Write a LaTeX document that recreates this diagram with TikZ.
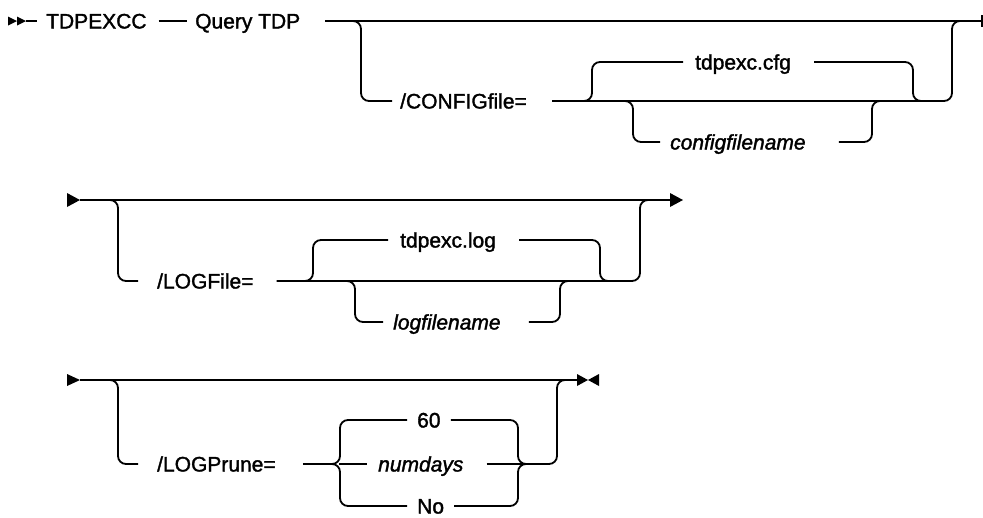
\documentclass[tikz,border=0pt]{standalone}
\usepackage{fontspec}
\setmainfont{Liberation Sans}[FakeBold=1.6]
\begin{document}
\begin{tikzpicture}[x=1pt,y=-1pt,
  ln/.style={line width=1.8pt},
  rr/.style={line width=1.8pt, rounded corners=8pt},
  lbl/.style={font=\fontsize{21pt}{25pt}\selectfont, inner sep=0pt, anchor=base west},
  var/.style={lbl, font=\fontsize{21pt}{25pt}\selectfont\itshape}]
\useasboundingbox (0,0) rectangle (983,517);
% rails
\coordinate (ya) at (0,21);
\coordinate (yb) at (0,101);
\coordinate (yc) at (0,62);
\coordinate (yd) at (0,142);
\coordinate (ye) at (0,200);
\coordinate (yf) at (0,281);
\coordinate (yg) at (0,240);
\coordinate (yh) at (0,322);
\coordinate (yi) at (0,380);
\coordinate (yj) at (0,464);
\coordinate (yk) at (0,420);
\coordinate (yl) at (0,506);
% ---------- row 1 ----------
\fill (8,16.5) -- (17,21) -- (8,25.5) -- cycle;
\fill (17,16.5) -- (26,21) -- (17,25.5) -- cycle;
\coordinate (s1) at (26,21);
\node[lbl] (t1) at (46,28.5) {TDPEXCC};
\node[lbl] (t2) at (195,28.5) {Query TDP};
\node[lbl] (t3) at (400,108.5) {/CONFIGfile=};
\node[lbl] (t4) at (695,69.5) {tdpexc.cfg};
\node[var] (t5) at (670,149.5) {configfilename};
\coordinate (e1) at (982,21);
\draw[ln] (s1) -- (37,21);
\draw[ln] ([xshift=12pt]t1.east |- ya) -- ([xshift=-8pt]t2.west |- ya);
\draw[ln] ([xshift=25pt]t2.east |- ya) -- (e1);
\draw[ln] ([yshift=6pt]e1) -- ([yshift=-6pt]e1);
\draw[rr] (345,21) -- (361,21) -- (361,101) -- ([xshift=-8pt]t3.west |- yb);
\draw[rr] ([xshift=25pt]t3.east |- yb) -- (952,101) -- (952,21) -- (966,21);
\draw[rr] (578,101) -- (592,101) -- (592,62) -- ([xshift=-12pt]t4.west |- yc);
\draw[rr] ([xshift=23pt]t4.east |- yc) -- (913,62) -- (913,101) -- (927,101);
\draw[rr] (619,101) -- (633,101) -- (633,142) -- ([xshift=-10pt]t5.west |- yd);
\draw[rr] ([xshift=33pt]t5.east |- yd) -- (872,142) -- (872,101) -- (886,101);
% ---------- row 2 ----------
\fill (67,193) -- (80,200) -- (67,207) -- cycle;
\coordinate (s2) at (80,200);
\coordinate (e2) at (670,200);
\fill (670,193) -- (683,200) -- (670,207) -- cycle;
\node[lbl] (t6) at (157,288.5) {/LOGFile=};
\node[lbl] (t7) at (400,247.5) {tdpexc.log};
\node[var] (t8) at (393,329.5) {logfilename};
\draw[ln] (s2) -- (e2);
\draw[rr] (104,200) -- (118,200) -- (118,281) -- ([xshift=-19pt]t6.west |- yf);
\draw[rr] ([xshift=23pt]t6.east |- yf) -- (640,281) -- (640,200) -- (654,200);
\draw[rr] (299,281) -- (313,281) -- (313,240) -- ([xshift=-12pt]t7.west |- yg);
\draw[rr] ([xshift=23pt]t7.east |- yg) -- (600,240) -- (600,281) -- (614,281);
\draw[rr] (341,281) -- (355,281) -- (355,322) -- ([xshift=-10pt]t8.west |- yh);
\draw[rr] ([xshift=28pt]t8.east |- yh) -- (560,322) -- (560,281) -- (574,281);
% ---------- row 3 ----------
\fill (67,374) -- (80,380) -- (67,386) -- cycle;
\coordinate (s3) at (80,380);
\coordinate (e3) at (577,380);
\fill (577,374) -- (588,380) -- (577,386) -- cycle;
\fill (599,374) -- (588,380) -- (599,386) -- cycle;
\node[lbl] (t9) at (157,471.5) {/LOGPrune=};
\node[lbl] (t10) at (417,427.5) {60};
\node[var] (t11) at (378,471.5) {numdays};
\node[lbl] (t12) at (417,513.5) {No};
\draw[ln] (s3) -- (e3);
\draw[rr] (104,380) -- (118,380) -- (118,464) -- ([xshift=-19pt]t9.west |- yj);
\draw[ln] ([xshift=27pt]t9.east |- yj) -- (336,464);
\draw[rr] ([xshift=-10pt]t10.west |- yk) -- (340,420) -- (340,464) -- (330,464);
\draw[rr] ([xshift=-10pt]t12.west |- yl) -- (340,506) -- (340,464) -- (330,464);
\draw[ln] (339,464) -- ([xshift=-11pt]t11.west |- yj);
\draw[rr] ([xshift=10pt]t10.east |- yk) -- (518,420) -- (518,464) -- (528,464);
\draw[rr] ([xshift=10pt]t12.east |- yl) -- (518,506) -- (518,464) -- (528,464);
\draw[ln] ([xshift=23pt]t11.east |- yj) -- (519,464);
\draw[rr] (517,464) -- (557,464) -- (557,380) -- (571,380);
\end{tikzpicture}
\end{document}
